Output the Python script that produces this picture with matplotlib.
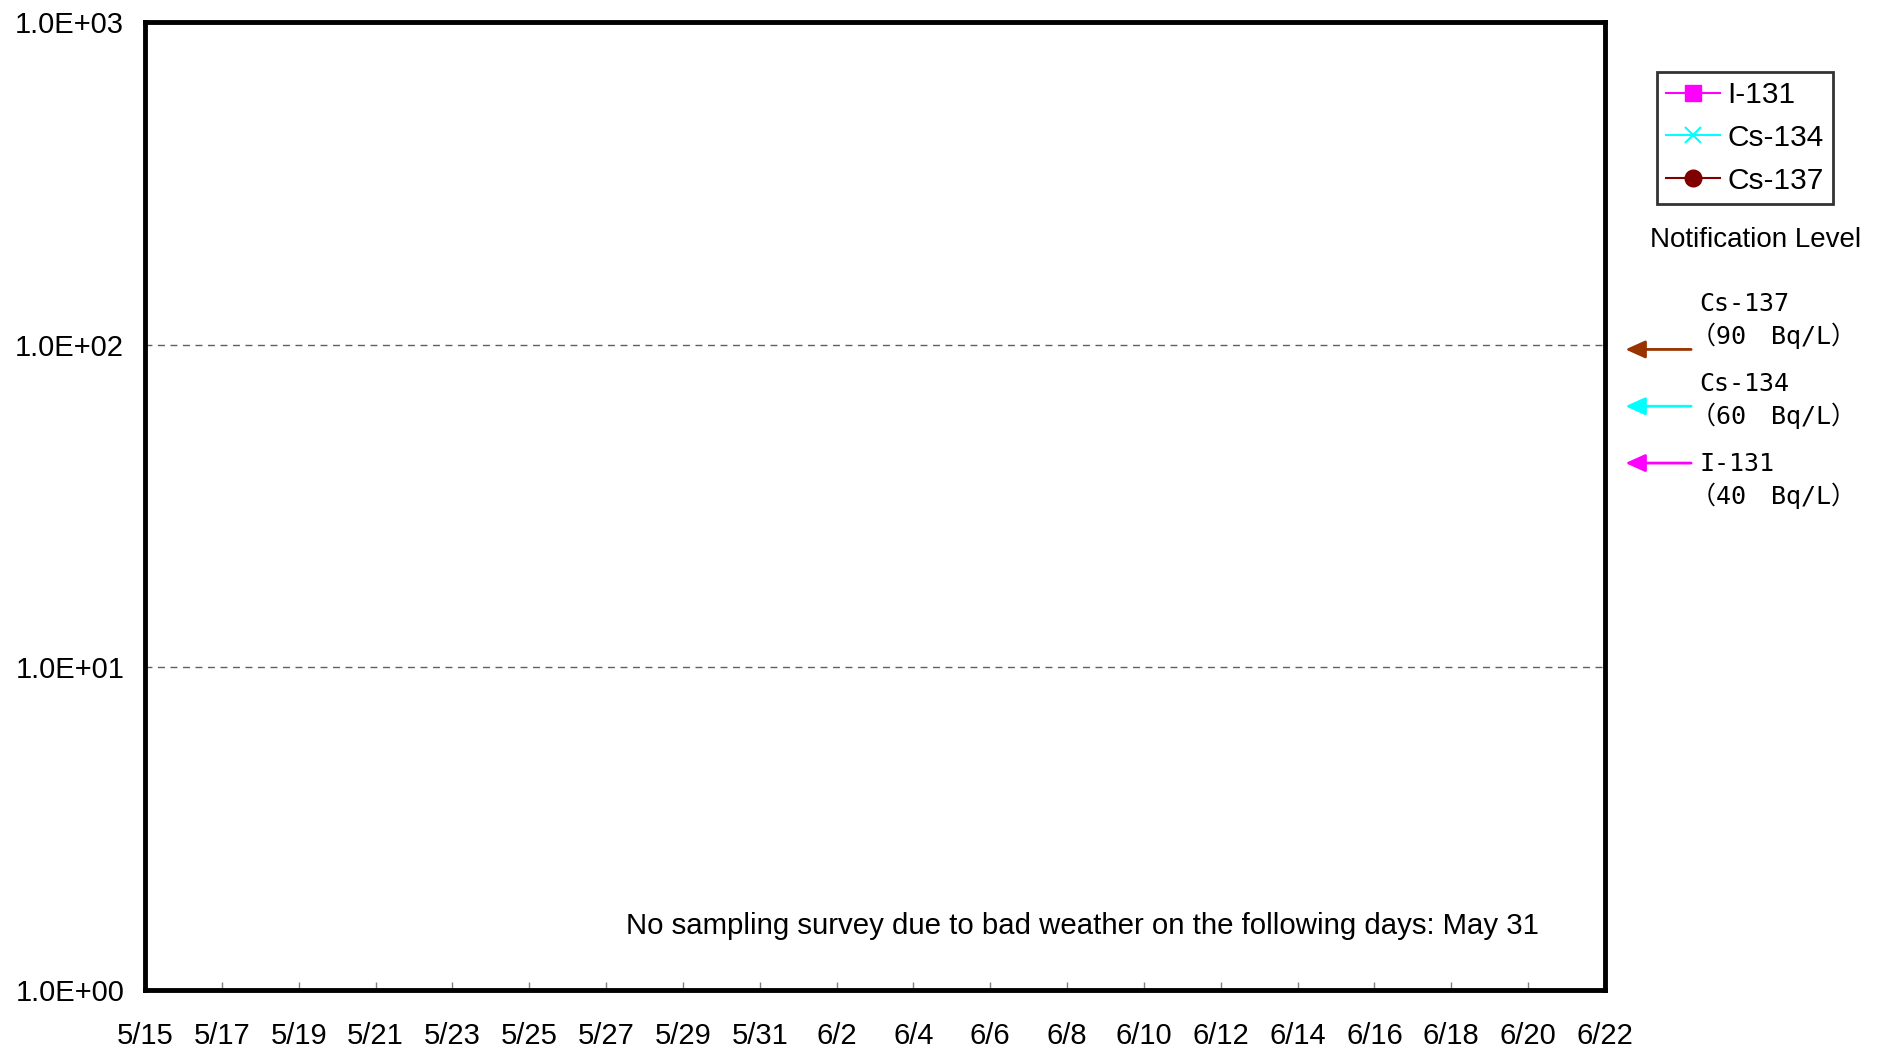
import datetime as dt
import matplotlib
matplotlib.use('Agg')
import matplotlib.pyplot as plt
import matplotlib.transforms as mtransforms

plt.rcParams['font.family'] = ['Liberation Sans', 'DejaVu Sans']

# daily measurements (no values shown in this period)
dates = []
i131 = []
cs134 = []
cs137 = []

start = dt.datetime(2011, 5, 15)
end = dt.datetime(2011, 6, 22)
tick_dates = [start + dt.timedelta(days=d) for d in range(0, 39, 2)]

# notification levels, Bq/L
levels = [90, 60, 40]
level_names = ['Cs-137', 'Cs-134', 'I-131']
level_texts = ['（90　Bq/L）', '（60　Bq/L）', '（40　Bq/L）']
level_colors = ['#993300', '#00FFFF', '#FF00FF']

note = 'No sampling survey due to bad weather on the following days: May 31'

fig = plt.figure(figsize=(18.86, 10.50), dpi=100)
ax = fig.add_axes([145 / 1886, 1 - 990 / 1050, 1460 / 1886, 968 / 1050])

ax.plot(dates, i131, '-', color='#FF00FF', marker='s', markersize=12, lw=1.5, label='I-131')
ax.plot(dates, cs134, '-', color='#00FFFF', marker='x', markersize=12, mew=1.5, lw=1.5, label='Cs-134')
ax.plot(dates, cs137, '-', color='#800000', marker='o', markersize=12, lw=1.5, label='Cs-137')

ax.set_yscale('log')
ax.set_ylim(1, 1000)
ax.set_xlim(start, end)

ax.yaxis.set_major_locator(matplotlib.ticker.FixedLocator([1, 10, 100, 1000]))
ax.yaxis.set_minor_locator(matplotlib.ticker.NullLocator())
ax.set_yticklabels(['1.0E+00', '1.0E+01', '1.0E+02', '1.0E+03'])
ax.tick_params(axis='y', length=0, pad=15, labelsize=21)

ax.set_xticks(tick_dates)
ax.set_xticklabels(['%d/%d' % (d.month, d.day) for d in tick_dates])
ax.tick_params(axis='x', direction='in', length=6, width=1, color='#808080',
               pad=23, labelsize=21)

for y in [10, 100]:
    ax.axhline(y, color='#606060', lw=1, dashes=(5, 4), zorder=0)

for s in ax.spines.values():
    s.set_linewidth(3.5)
    s.set_color('black')

ax.text(0.955, 0.058, note, transform=ax.transAxes, ha='right', va='baseline', fontsize=21.2)

leg = fig.legend(loc='upper left', bbox_to_anchor=(1657 / 1886, 1 - 72 / 1050),
                 fontsize=21.5, frameon=True, fancybox=False, edgecolor='black',
                 handlelength=1.8, handletextpad=0.25, borderpad=0.3, labelspacing=0.5,
                 borderaxespad=0)
leg.get_frame().set_linewidth(2)

fig.text(1756 / 1886, 1 - 247 / 1050, 'Notification Level', ha='center', va='baseline', fontsize=20)

# arrows pointing at the levels
lab_font = ['DejaVu Sans Mono', 'Noto Sans CJK JP']
trans = mtransforms.blended_transform_factory(ax.transAxes, ax.transData)
arr_t = mtransforms.offset_copy(trans, fig=fig, y=10, units='dots')
for i, (lvl, name, txt, col) in enumerate(zip(levels, level_names, level_texts, level_colors)):
    ax.annotate('', xy=(1.014, lvl), xytext=(1.059, lvl), xycoords=arr_t, textcoords=arr_t,
                arrowprops=dict(arrowstyle='-|>,head_length=0.6,head_width=0.27', color=col, lw=2,
                                mutation_scale=20, shrinkA=0, shrinkB=0), annotation_clip=False)
    y0 = 311 + 80 * i
    fig.text(1699 / 1886, 1 - y0 / 1050, name, va='baseline', ha='left', fontsize=18, family=lab_font)
    fig.text(1691 / 1886, 1 - (y0 + 33) / 1050, txt, va='baseline', ha='left', fontsize=18,
             family=lab_font)

fig.savefig('out.png', dpi=100)
